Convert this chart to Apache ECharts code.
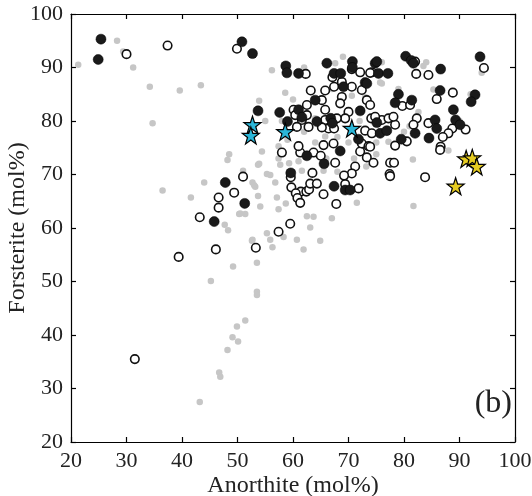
<!DOCTYPE html>
<html><head><meta charset="utf-8">
<script src="https://cdn.jsdelivr.net/npm/echarts@6/dist/echarts.min.js"></script>
<style>html,body{margin:0;padding:0;background:#fff}#c{width:532px;height:496px}</style>
</head><body><div id="c"></div>
<script>
const xTicks = [20,30,40,50,60,70,80,90,100];
const yTicks = [20,30,40,50,60,70,80,90,100];
const xTitle = 'Anorthite (mol%)';
const yTitle = 'Forsterite (mol%)';
const panelLabel = '(b)';

const grayPts = [
[21.3,90.5],[28.3,95],[29.4,93],[31.2,90],[34.2,86.4],[34.7,79.6],[39.6,85.7],[43.4,86.7],
[56.2,89.5],[58.6,85.3],[53.9,83.8],[48.5,73.8],[48.2,72.7],[54.4,74.3],[36.5,67.0],[41.6,65.7],[44.0,68.5],[45.2,50.1],[53.9,72.0],[52.7,68.5],[53.2,67.7],[50.3,62.6],[51.4,62.6],[47.7,60.6],[48.3,59.6],[52.7,57.8],[53.5,53.5],[49.2,52.8],[53.5,48.1],[53.5,47.5],[51.4,42.7],[49.9,41.6],[49.1,39.6],[50.1,38.8],[48.2,37.2],[46.7,33.0],[46.9,32.2],[43.2,27.5],
[53.7,71.8],[57.7,71.8],[59.3,72.1],[61.6,70.7],[65.5,70.7],[51,70.7],[55.3,70.1],[55.9,69.9],[53,68],[56.8,68.5],[53.7,66],[57.1,65.7],[58.7,64.6],[54.1,64],[57.4,63.5],[50.5,62.7],[62.5,62.2],[63.7,62.1],[67,61.8],[63.1,60.1],[55.3,59],[55.9,57.8],[58.3,58.3],[60.7,57.8],[61.9,56],[64.9,57.6],[52.6,57.6],[56.3,56.4],[71.5,64.7],
[70.6,84.7],[67.6,90.8],[65.8,77.1],[57.4,75.3],[57.4,73],[83.5,90.3],[94,89],[82.6,81.7],[75.7,87.2],[85.3,85.9],[77.2,76.1],[75,73.8],[73.2,71.5],[81.6,72.8],[81.7,64.1],[76,87],
[62,78],[64,80.5],[60,84],[66,82],[63,86],[68,77],[70,76],[72,80],[74,83],[78,81],[80,78],[66,73],[64,76],[59,76.5],[61,72.5],[68,70.5],[71,73],[75,76],[58,80],[55,80],[76,91],[84,91],[92,85],[90,80],[88,74.5],[81,79],[79,86],[67,86],[69,92],[73,84.5],[62,90]
];

const openPts = [
[30.0,92.5],[37.4,94.1],[49.9,93.5],[62.3,88.8],[46.6,65.7],[46.6,63.8],[43.2,62.0],[46.1,56.0],[39.4,54.6],[31.5,35.5],[51.0,69.6],[49.4,66.6],[53.3,56.3],
[58,74.1],[61.3,74.1],[63.7,74.1],[65,73.5],[67.6,72.2],[71.2,71.5],[70.6,70.2],[69.2,69.8],[59.6,69.5],[63.5,70.3],[59.7,67.6],[61.4,66.8],[62.4,66.8],[62.9,67.2],[63.1,68.3],[64.3,68.3],[60.5,66.5],[60.8,65.6],[61.3,64.7],[69.4,68.2],[71.8,67.4],[65.5,66.3],[67.8,64.5],[59.5,60.8],[57.4,59.3],[72.1,74.3],[73.3,73.2],[74.5,72.2],
[70.6,89.7],[72.1,89.1],[74.2,89.1],[67.1,88.2],[68.8,87.3],
[63.2,85.7],[62.5,83],[65.2,83.9],[65.8,85.7],[67.4,86.4],[68.8,84.5],[68.5,83.3],[70.6,86.4],[72.4,85.8],[73.3,83.9],[73.9,83],[74.1,80.5],[70,81.7],[69.4,80.5],[67.9,80.5],[65.8,80.2],[61.6,80.2],[60.1,82.1],[60.4,81.1],[62.5,81.1],[65.8,82.1],[66.4,78.6],[67.4,78.6],[65.2,78.8],[62.8,78.9],[60.7,78.9],[73,78.2],[74.2,77.7],[72.4,75.8],[73.6,75.3],[61,75.3],[65.5,75.5],[67.3,75.8],
[82.2,88.8],[84.4,88.6],[94.4,89.9],[73.9,89],[85.9,84.1],[88.8,85.3],[79.7,82.8],[81.1,83],[84.4,79.6],[91.1,78.4],[88.7,78.6],[88,77.7],[87,77],[86.6,75.2],[82.3,80.5],[81.7,79.3],[80.5,76.2],[78.4,75.4],[76,80.2],[77.2,80.5],[78.4,79.3],[74.8,80.8],[73.9,75.2],[78.1,80.8],
[77.5,72.2],[78.2,72.2],[77.4,70.1],[77.5,69.7],[83.8,69.5],[86.5,74.6],[82,91.1]
];

const blackPts = [
[25.4,95.3],[24.9,91.5],[50.8,94.8],[52.7,92.6],[58.7,90.3],[58.9,89.0],[61,88.9],[66.1,90.8],[67.4,88.9],[68.6,88.9],[70.7,91.1],[70.7,90.0],[74.8,90.8],[53.7,81.9],[57.6,81.6],[45.8,61.2],[47.8,68.5],[51.3,64.6],
[62.5,73.5],[65.6,72.0],[68.5,74.4],[59.6,70.3],[67.4,67.8],[69.4,67.1],[70.3,67.1],
[59,79.9],[61,82.1],[64,83.9],[64.3,79.9],[66.8,80.5],[67.1,79.6],[69.1,86.4],[72.1,81.9],[73,87.2],[75.1,79.7],[71.8,76.6],[61.6,80.7],
[80.3,92.1],[81.3,91.3],[81.7,90.8],[86.6,89.7],[93.7,92],[75.1,91.1],[75.4,88.9],[77.1,88.9],[86.5,85.7],[79,85],[78.4,83.4],[81.4,83.9],[88.9,82.1],[92.8,84.9],[92.1,83.6],[85.6,80.2],[85.9,78.6],[89.3,80.2],[90.1,79.3],[84.5,76.8],[82,77.7],[79.5,76.6],[75.7,77.7],[76.9,78.2],[73.3,87]
];

const cyanStars = [[52.7,79.3],[52.4,77.3],[58.6,78.0],[70.6,78.6]];
const yellowStars = [[91.2,72.9],[92.3,73.1],[93.1,71.5],[89.3,67.8]];

const FONT = 'Liberation Serif';
const STAR = 'path://M50,0 L61.8,35.1 L99,35.1 L68.9,57.1 L80.3,92.7 L50,70.9 L19.7,92.7 L31.1,57.1 L1,35.1 L38.2,35.1 Z';
const chart = echarts.init(document.getElementById('c'), null, {renderer:'canvas'});
const axLine = {show:true, lineStyle:{color:'#000', width:1.2}};
const axTick = {show:true, inside:true, length:5, lineStyle:{color:'#000', width:1.2}};
chart.setOption({
  animation:false,
  backgroundColor:'#fff',
  grid:{left:71, right:17, top:14, bottom:54, containLabel:false, outerBoundsMode:'none'},
  xAxis:[
    {type:'value', min:xTicks[0], max:xTicks[xTicks.length-1], interval:10, position:'bottom',
     axisLine:axLine, axisTick:axTick, splitLine:{show:false},
     axisLabel:{fontFamily:FONT, fontSize:22, color:'#222', margin:8},
     name:xTitle, nameLocation:'middle', nameGap:32, nameMoveOverlap:false,
     nameTextStyle:{fontFamily:FONT, fontSize:24, color:'#222'}},
    {type:'value', min:xTicks[0], max:xTicks[xTicks.length-1], interval:10, position:'top',
     axisLine:axLine, axisTick:axTick, splitLine:{show:false}, axisLabel:{show:false}}
  ],
  yAxis:[
    {type:'value', min:yTicks[0], max:yTicks[yTicks.length-1], interval:10, position:'left',
     axisLine:axLine, axisTick:axTick, splitLine:{show:false},
     axisLabel:{fontFamily:FONT, fontSize:22, color:'#222', margin:8},
     name:yTitle, nameLocation:'middle', nameGap:41, nameRotate:90, nameMoveOverlap:false,
     nameTextStyle:{fontFamily:FONT, fontSize:24, color:'#222'}},
    {type:'value', min:yTicks[0], max:yTicks[yTicks.length-1], interval:10, position:'right',
     axisLine:axLine, axisTick:axTick, splitLine:{show:false}, axisLabel:{show:false}}
  ],
  series:[
    {type:'scatter', data:grayPts, symbol:'circle', symbolSize:6.5,
     itemStyle:{color:'#c6c6c6', opacity:1}, z:2},
    {type:'scatter', data:openPts, symbol:'circle', symbolSize:8.5,
     itemStyle:{color:'#fff', borderColor:'#111', borderWidth:1.6, opacity:1}, z:3},
    {type:'scatter', data:blackPts, symbol:'circle', symbolSize:10,
     itemStyle:{color:'#1a1a1a', borderColor:'#000', borderWidth:0.5, opacity:1}, z:4},
    {type:'scatter', data:cyanStars, symbol:STAR, symbolSize:17,
     itemStyle:{color:'#2bb6d8', borderColor:'#000', borderWidth:1.2, opacity:1}, z:5},
    {type:'scatter', data:yellowStars, symbol:STAR, symbolSize:17,
     itemStyle:{color:'#e6cc22', borderColor:'#000', borderWidth:1.2, opacity:1}, z:5}
  ],
  graphic:[
    {type:'text', right:20, top:388, style:{text:panelLabel, fontFamily:FONT, fontSize:32, fill:'#222'}}
  ]
});
</script></body></html>
